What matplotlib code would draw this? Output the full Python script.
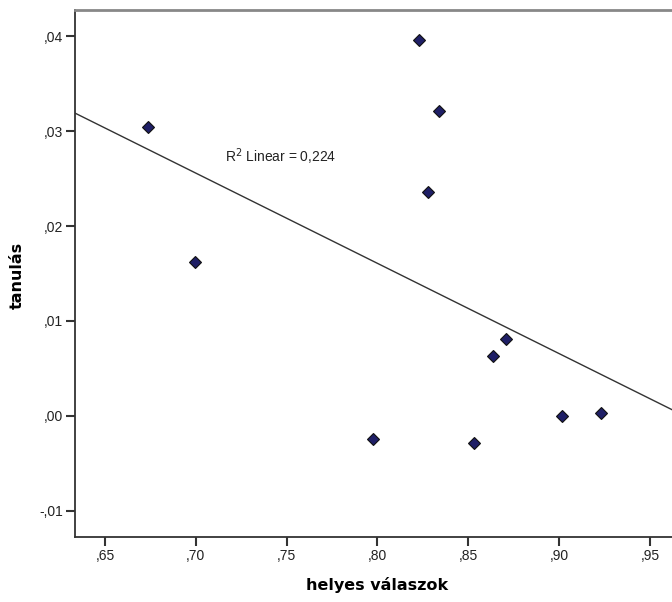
import numpy as np
import matplotlib.pyplot as plt
from matplotlib.ticker import FixedLocator

plt.rcParams['font.family'] = ['Liberation Sans', 'DejaVu Sans']

# helyes válaszok (x) és tanulás (y)
helyes = np.array([0.6737, 0.6995, 0.7975, 0.8228, 0.8338, 0.8278,
                   0.8531, 0.8636, 0.8707, 0.9016, 0.9230])
tanulas = np.array([0.03042, 0.01621, -0.00242, 0.03958, 0.03210, 0.02358,
                    -0.00284, 0.00632, 0.00810, 0.00000, 0.00030])

x_ticks = [0.65, 0.70, 0.75, 0.80, 0.85, 0.90, 0.95]
x_labels = [",65", ",70", ",75", ",80", ",85", ",90", ",95"]
y_ticks = [-0.01, 0.00, 0.01, 0.02, 0.03, 0.04]
y_labels = ["-,01", ",00", ",01", ",02", ",03", ",04"]

fig = plt.figure(figsize=(6.72, 6.02), dpi=100)
ax = fig.add_axes([75 / 672, 65 / 602, 597 / 672, 527 / 602])

xlim = (0.6335, 0.9621)
ylim = (-0.01274, 0.04274)

# lineáris illesztés
b, a = np.polyfit(helyes, tanulas, 1)
xx = np.array(xlim)
ax.plot(xx, a + b * xx, color="#333333", lw=1.0, zorder=2)

ax.plot(helyes, tanulas, "D", ms=6.5, mfc="#1f1f66", mec="#111111",
        mew=0.8, zorder=3)

ax.text(0.7161, 0.02674, "R$^2$ Linear = 0,224", fontsize=10, color="#222222")

ax.set_xlim(*xlim)
ax.set_ylim(*ylim)
ax.xaxis.set_major_locator(FixedLocator(x_ticks))
ax.yaxis.set_major_locator(FixedLocator(y_ticks))
ax.set_xticklabels(x_labels)
ax.set_yticklabels(y_labels)
ax.tick_params(length=6.5, width=1.5, color="#333333", labelsize=10,
               labelcolor="#222222", pad=2)

for s in ["left", "bottom"]:
    ax.spines[s].set_color("#333333")
    ax.spines[s].set_linewidth(1.3)
ax.spines["top"].set_color("#888888")
ax.spines["top"].set_linewidth(2)
ax.spines["right"].set_visible(False)

ax.set_xlabel("helyes válaszok", fontsize=11.5, fontweight="bold",
              family="DejaVu Sans")
ax.set_ylabel("tanulás", fontsize=11.5, fontweight="bold",
              family="DejaVu Sans")
ax.xaxis.set_label_coords(0.506, -0.076)
ax.yaxis.set_label_coords(-0.084, 0.497)

fig.savefig("out.png", dpi=100)
